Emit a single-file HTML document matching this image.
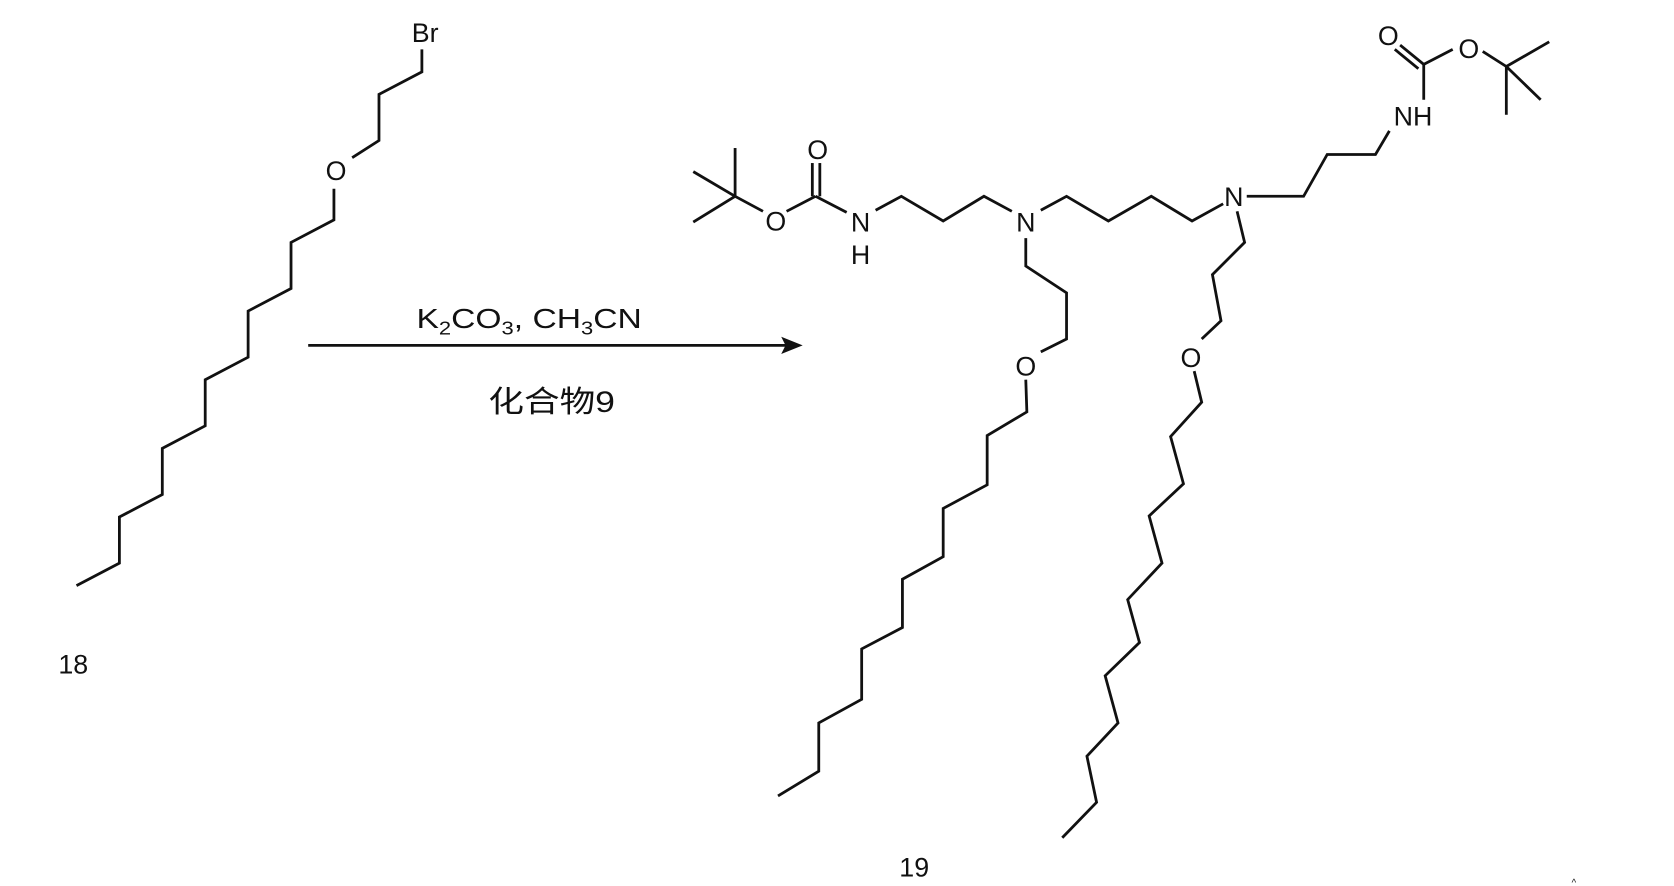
<!DOCTYPE html>
<html><head><meta charset="utf-8"><style>
html,body{margin:0;padding:0;background:#fff;}
svg{display:block}
text{font-family:"Liberation Sans","Noto Sans CJK SC",sans-serif;fill:#111;}
</style></head><body>
<svg width="1674" height="886" viewBox="0 0 1560 826" xmlns="http://www.w3.org/2000/svg">
<g stroke="#111" stroke-width="2.6" fill="none" stroke-linejoin="miter">
<polyline points="393,46 393,67 353,88 353,131 328,147"/>
<polyline points="311,176 311,205 271,226 271,269 231,290 231,333 191,354 191,397 151,418 151,461 111,482 111,525 71,546"/>
<line x1="287" y1="322" x2="735" y2="322"/>
</g>
<polygon points="748,322 728,314 732,322 728,330" fill="#111"/>
<text x="396" y="39" font-size="25" text-anchor="middle">Br</text>
<text x="313" y="168" font-size="25" text-anchor="middle">O</text>
<text x="68" y="628" font-size="25" text-anchor="middle">18</text>
<text x="493" y="306" font-size="26" text-anchor="middle" textLength="210" lengthAdjust="spacingAndGlyphs">K<tspan font-size="17" dy="6">2</tspan><tspan dy="-6">CO</tspan><tspan font-size="17" dy="6">3</tspan><tspan dy="-6">, CH</tspan><tspan font-size="17" dy="6">3</tspan><tspan dy="-6">CN</tspan></text>
<text x="514" y="384" font-size="28" text-anchor="middle" textLength="118" lengthAdjust="spacingAndGlyphs" fill="#333">化合物9</text>

<g stroke="#111" stroke-width="2.6" fill="none">
<line x1="685" y1="183" x2="685" y2="138"/>
<line x1="685" y1="183" x2="646" y2="160"/>
<line x1="685" y1="183" x2="646" y2="207"/>
<line x1="685" y1="183" x2="711" y2="197"/>
<line x1="733" y1="197" x2="760" y2="183"/>
<line x1="757" y1="183" x2="757" y2="152"/>
<line x1="764" y1="183" x2="764" y2="152"/>
<line x1="760" y1="183" x2="789" y2="198"/>
<polyline points="816,196 840,183 879,206 917,183 943,197"/>
<polyline points="970,196 994,183 1033,206 1073,183 1111,206 1140,190"/>
<polyline points="1162,183 1215,183 1237,144 1282,144 1295,122"/>
<line x1="1327" y1="93" x2="1327" y2="60"/>
<line x1="1327" y1="60" x2="1305" y2="42"/>
<line x1="1322" y1="64" x2="1300" y2="46"/>
<line x1="1327" y1="60" x2="1354" y2="46"/>
<line x1="1382" y1="48" x2="1404" y2="62"/>
<line x1="1404" y1="62" x2="1444" y2="39"/>
<line x1="1404" y1="62" x2="1436" y2="93"/>
<line x1="1404" y1="62" x2="1404" y2="107"/>
<polyline points="956,222 956,248 994,273 994,316 970,328"/>
<polyline points="956,354 957,384 920,406 920,452 879,474 879,519 841,540 841,585 803,605 803,652 763,674 763,719 725,742"/>
<polyline points="1153,197 1160,226 1130,256 1138,299 1120,316"/>
<polyline points="1113,346 1120,375 1091,407 1103,451 1071,481 1083,525 1051,559 1062,599 1030,630 1042,674 1013,705 1022,748 990,781"/>
</g>
<g font-size="25" text-anchor="middle">
<text x="723" y="215">O</text>
<text x="762" y="148">O</text>
<text x="802" y="216">N</text>
<text x="802" y="246">H</text>
<text x="956" y="216">N</text>
<text x="1150" y="192">N</text>
<text x="1317" y="117">NH</text>
<text x="1294" y="42">O</text>
<text x="1369" y="54">O</text>
<text x="956" y="350">O</text>
<text x="1110" y="342">O</text>
<text x="852" y="817">19</text>
</g>
<text x="1467" y="826" font-size="9" text-anchor="middle">^</text>
</svg>
</body></html>
